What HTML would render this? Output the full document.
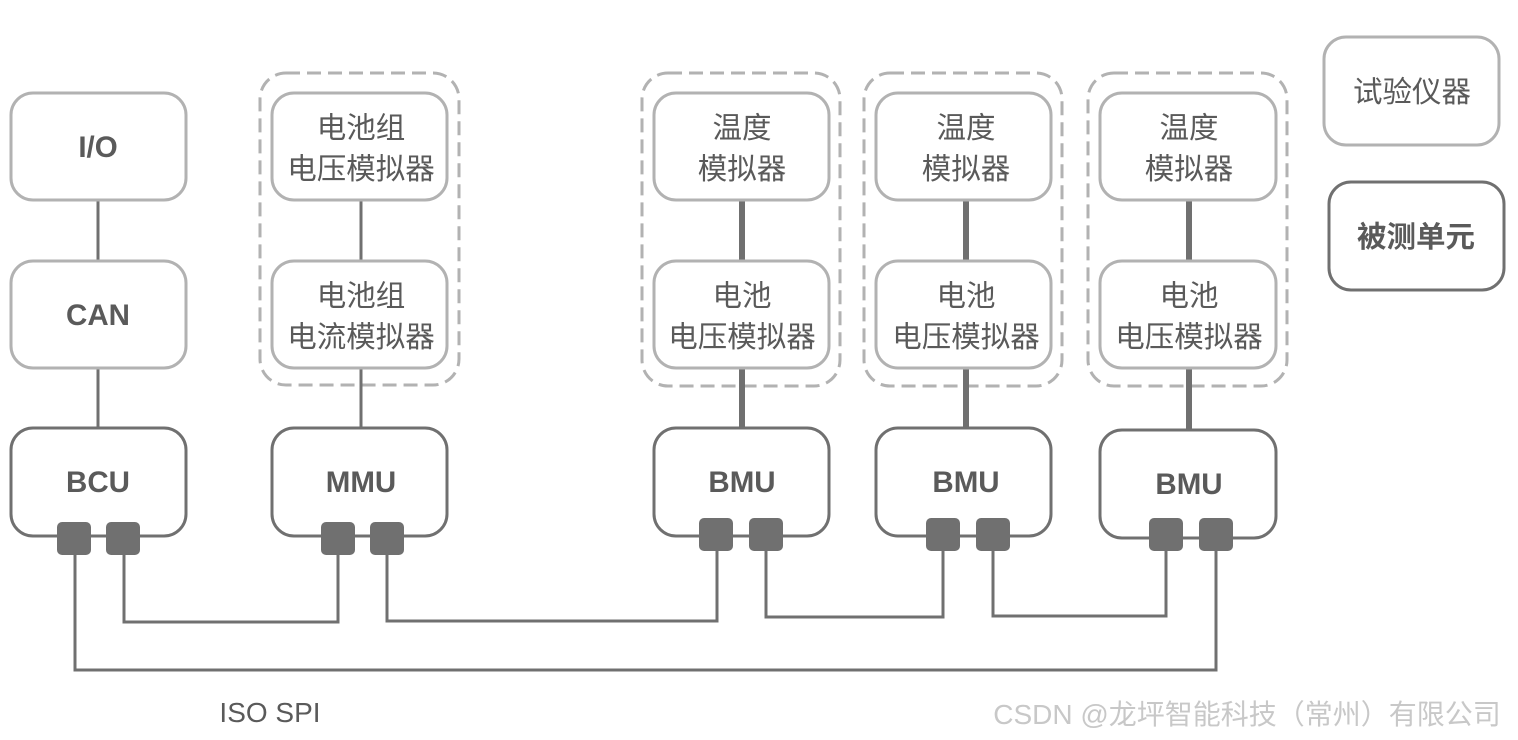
<!DOCTYPE html>
<html><head><meta charset="utf-8"><style>
html,body{margin:0;padding:0;background:#fff;width:1518px;height:740px;overflow:hidden}
svg text{font-family:"Liberation Sans","Noto Sans CJK SC",sans-serif;fill:#5a5a5a;text-anchor:middle}
</style></head><body>
<svg width="1518" height="740" viewBox="0 0 1518 740">
<g fill="none" stroke="#b2b2b2" stroke-width="3" stroke-dasharray="14 7">
<rect x="260" y="73" width="199" height="312" rx="26"/>
<rect x="642" y="73" width="198" height="313" rx="26"/>
<rect x="864" y="73" width="198" height="313" rx="26"/>
<rect x="1088" y="73" width="199" height="313" rx="26"/>
</g>
<g stroke="#707070" stroke-width="3" fill="none">
<line x1="98" y1="200" x2="98" y2="261"/>
<line x1="98" y1="368" x2="98" y2="428"/>
<line x1="361" y1="200" x2="361" y2="261"/>
<line x1="361" y1="368" x2="361" y2="428"/>
<polyline points="124,550 124,622 338,622 338,550"/>
<polyline points="387,550 387,621 717,621 717,550"/>
<polyline points="766,550 766,617 943,617 943,550"/>
<polyline points="993,550 993,616 1166,616 1166,550"/>
<polyline points="75,550 75,670 1216,670 1216,550"/>
</g>
<g stroke="#707070" stroke-width="6">
<line x1="742" y1="200" x2="742" y2="261"/><line x1="742" y1="368" x2="742" y2="428"/>
<line x1="966" y1="200" x2="966" y2="261"/><line x1="966" y1="368" x2="966" y2="428"/>
<line x1="1189" y1="200" x2="1189" y2="261"/><line x1="1189" y1="368" x2="1189" y2="430"/>
</g>
<g fill="#fff" stroke="#b2b2b2" stroke-width="3">
<rect x="11" y="93" width="175" height="107" rx="22"/>
<rect x="11" y="261" width="175" height="107" rx="22"/>
<rect x="272" y="93" width="175" height="107" rx="22"/>
<rect x="272" y="261" width="175" height="107" rx="22"/>
<rect x="654" y="93" width="175" height="107" rx="22"/>
<rect x="654" y="261" width="175" height="107" rx="22"/>
<rect x="876" y="93" width="175" height="107" rx="22"/>
<rect x="876" y="261" width="175" height="107" rx="22"/>
<rect x="1100" y="93" width="176" height="107" rx="22"/>
<rect x="1100" y="261" width="176" height="107" rx="22"/>
<rect x="1324" y="37" width="175" height="108" rx="22"/>
</g>
<g fill="#fff" stroke="#707070" stroke-width="3">
<rect x="11" y="428" width="175" height="108" rx="22"/>
<rect x="272" y="428" width="175" height="108" rx="22"/>
<rect x="654" y="428" width="175" height="108" rx="22"/>
<rect x="876" y="428" width="175" height="108" rx="22"/>
<rect x="1100" y="430" width="176" height="108" rx="22"/>
<rect x="1329" y="182" width="175" height="108" rx="22"/>
</g>
<g fill="#707070">
<rect x="57" y="522" width="34" height="33" rx="5"/><rect x="106" y="522" width="34" height="33" rx="5"/>
<rect x="321" y="522" width="34" height="33" rx="5"/><rect x="370" y="522" width="34" height="33" rx="5"/>
<rect x="699" y="518" width="34" height="33" rx="5"/><rect x="749" y="518" width="34" height="33" rx="5"/>
<rect x="926" y="518" width="34" height="33" rx="5"/><rect x="976" y="518" width="34" height="33" rx="5"/>
<rect x="1149" y="518" width="34" height="33" rx="5"/><rect x="1199" y="518" width="34" height="33" rx="5"/>
</g>
<g font-size="29.5">
<text x="98" y="157" font-weight="bold">I/O</text>
<text x="98" y="325" font-weight="bold">CAN</text>
<text x="98" y="492" font-weight="bold">BCU</text>
<text x="361" y="492" font-weight="bold">MMU</text>
<text x="742" y="492" font-weight="bold">BMU</text>
<text x="966" y="492" font-weight="bold">BMU</text>
<text x="1189" y="494" font-weight="bold">BMU</text>
<text x="361" y="138">电池组</text><text x="361" y="179">电压模拟器</text>
<text x="361" y="306">电池组</text><text x="361" y="347">电流模拟器</text>
<text x="742" y="138">温度</text><text x="742" y="179">模拟器</text>
<text x="742" y="306">电池</text><text x="742" y="347">电压模拟器</text>
<text x="966" y="138">温度</text><text x="966" y="179">模拟器</text>
<text x="966" y="306">电池</text><text x="966" y="347">电压模拟器</text>
<text x="1189" y="138">温度</text><text x="1189" y="179">模拟器</text>
<text x="1189" y="306">电池</text><text x="1189" y="347">电压模拟器</text>
<text x="1412" y="102">试验仪器</text>
<text x="1416" y="247" font-weight="bold">被测单元</text>
</g>
<text x="270" y="722" font-size="28">ISO SPI</text>
<text x="1247" y="724" font-size="28" style="fill:#c8c8c8">CSDN @龙坪智能科技（常州）有限公司</text>
</svg>
</body></html>
